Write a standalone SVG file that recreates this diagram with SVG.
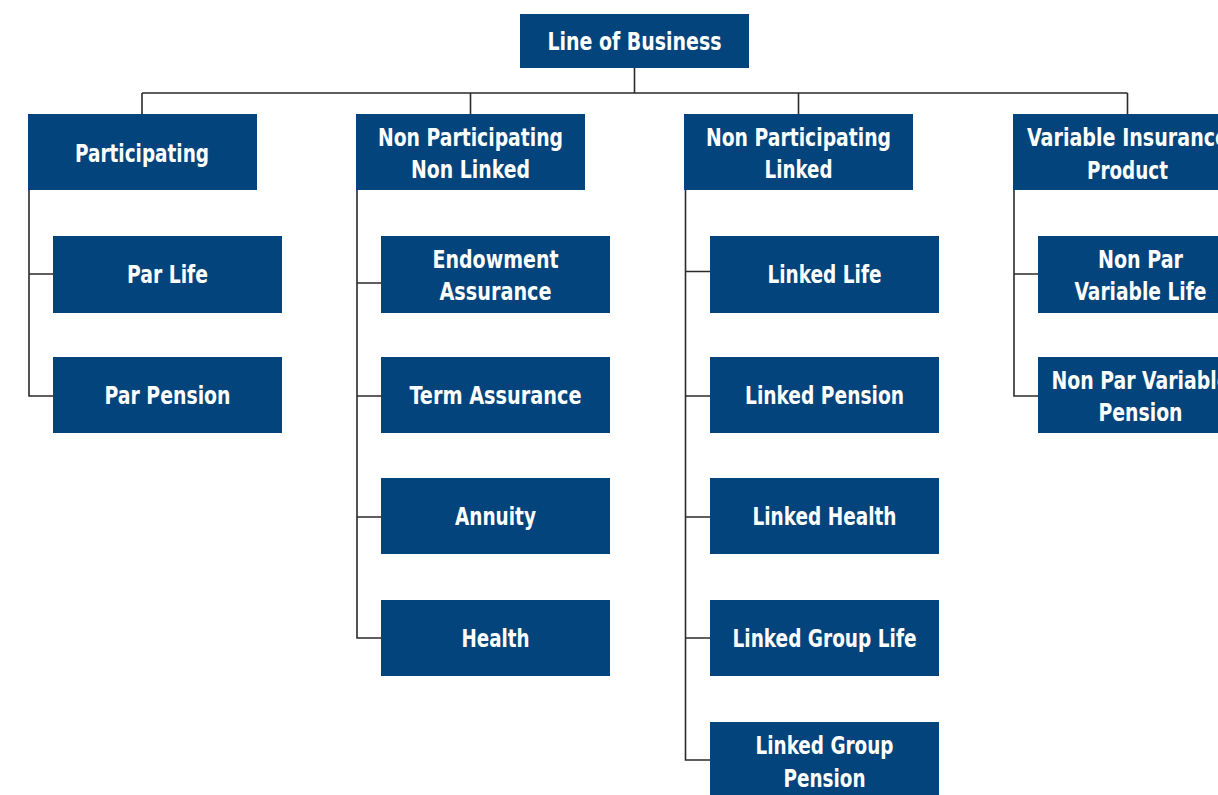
<svg xmlns="http://www.w3.org/2000/svg" width="1218" height="795" viewBox="0 0 1218 795">
<style>
.box{fill:#02447b}
.t{fill:#ffffff;font-family:"Liberation Sans Narrow","DejaVu Sans Condensed","Liberation Sans",sans-serif;font-weight:bold;font-size:25px;text-anchor:middle}
.ln{fill:none;stroke:#2a2a2a;stroke-width:1.6}
</style>
<rect width="1218" height="795" fill="#ffffff"/>
<g id="connectors">
<path class="ln" d="M634.5 68V93M142 93H1127.5M142 93V114M470.5 93V114M798.5 93V114M1127.5 93V114"/>
<path class="ln" d="M29 190V396H53M29 274H53"/>
<path class="ln" d="M357 190V638H381M357 283H381M357 396H381M357 517H381"/>
<path class="ln" d="M685.5 190V760H710M685.5 271.5H710M685.5 396H710M685.5 517H710M685.5 638H710"/>
<path class="ln" d="M1014 190V396H1038M1014 274H1038"/>
</g>
<g id="n-lob"><rect class="box" x="520" y="14" width="229" height="54"/><text class="t" x="634.5" y="50" textLength="174" lengthAdjust="spacingAndGlyphs">Line of Business</text></g>
<g id="n-par"><rect class="box" x="28" y="114" width="229" height="76"/><text class="t" x="142" y="162" textLength="134" lengthAdjust="spacingAndGlyphs">Participating</text></g>
<g id="n-npnl"><rect class="box" x="356" y="114" width="229" height="76"/><text class="t" x="470.5" y="146" textLength="185" lengthAdjust="spacingAndGlyphs">Non Participating</text><text class="t" x="470.5" y="178" textLength="119" lengthAdjust="spacingAndGlyphs">Non Linked</text></g>
<g id="n-npl"><rect class="box" x="684" y="114" width="229" height="76"/><text class="t" x="798.5" y="146" textLength="185" lengthAdjust="spacingAndGlyphs">Non Participating</text><text class="t" x="798.5" y="178" textLength="68" lengthAdjust="spacingAndGlyphs">Linked</text></g>
<g id="n-vip"><rect class="box" x="1013" y="114" width="229" height="76"/><text class="t" x="1127.5" y="146" textLength="201" lengthAdjust="spacingAndGlyphs">Variable Insurance</text><text class="t" x="1127.5" y="179" textLength="81" lengthAdjust="spacingAndGlyphs">Product</text></g>
<g id="n-parlife"><rect class="box" x="53" y="236" width="229" height="77"/><text class="t" x="167.5" y="283" textLength="81" lengthAdjust="spacingAndGlyphs">Par Life</text></g>
<g id="n-parpension"><rect class="box" x="53" y="357" width="229" height="76"/><text class="t" x="167.5" y="404" textLength="126" lengthAdjust="spacingAndGlyphs">Par Pension</text></g>
<g id="n-endow"><rect class="box" x="381" y="236" width="229" height="77"/><text class="t" x="495.5" y="268" textLength="126" lengthAdjust="spacingAndGlyphs">Endowment</text><text class="t" x="495.5" y="300" textLength="112" lengthAdjust="spacingAndGlyphs">Assurance</text></g>
<g id="n-term"><rect class="box" x="381" y="357" width="229" height="76"/><text class="t" x="495.5" y="404" textLength="172" lengthAdjust="spacingAndGlyphs">Term Assurance</text></g>
<g id="n-annuity"><rect class="box" x="381" y="478" width="229" height="76"/><text class="t" x="495.5" y="525" textLength="81" lengthAdjust="spacingAndGlyphs">Annuity</text></g>
<g id="n-health"><rect class="box" x="381" y="600" width="229" height="76"/><text class="t" x="495.5" y="647" textLength="68" lengthAdjust="spacingAndGlyphs">Health</text></g>
<g id="n-llife"><rect class="box" x="710" y="236" width="229" height="77"/><text class="t" x="824.5" y="283" textLength="114" lengthAdjust="spacingAndGlyphs">Linked Life</text></g>
<g id="n-lpension"><rect class="box" x="710" y="357" width="229" height="76"/><text class="t" x="824.5" y="404" textLength="159" lengthAdjust="spacingAndGlyphs">Linked Pension</text></g>
<g id="n-lhealth"><rect class="box" x="710" y="478" width="229" height="76"/><text class="t" x="824.5" y="525" textLength="144" lengthAdjust="spacingAndGlyphs">Linked Health</text></g>
<g id="n-lglife"><rect class="box" x="710" y="600" width="229" height="76"/><text class="t" x="824.5" y="647" textLength="184" lengthAdjust="spacingAndGlyphs">Linked Group Life</text></g>
<g id="n-lgpension"><rect class="box" x="710" y="722" width="229" height="76"/><text class="t" x="824.5" y="754" textLength="138" lengthAdjust="spacingAndGlyphs">Linked Group</text><text class="t" x="824.5" y="787" textLength="82" lengthAdjust="spacingAndGlyphs">Pension</text></g>
<g id="n-npvlife"><rect class="box" x="1038" y="236" width="229" height="77"/><text class="t" x="1140.5" y="268" textLength="85" lengthAdjust="spacingAndGlyphs">Non Par</text><text class="t" x="1140.5" y="300" textLength="132" lengthAdjust="spacingAndGlyphs">Variable Life</text></g>
<g id="n-npvpension"><rect class="box" x="1038" y="357" width="229" height="76"/><text class="t" x="1140.5" y="389" textLength="178" lengthAdjust="spacingAndGlyphs">Non Par Variable</text><text class="t" x="1140.5" y="421" textLength="84" lengthAdjust="spacingAndGlyphs">Pension</text></g>
</svg>
